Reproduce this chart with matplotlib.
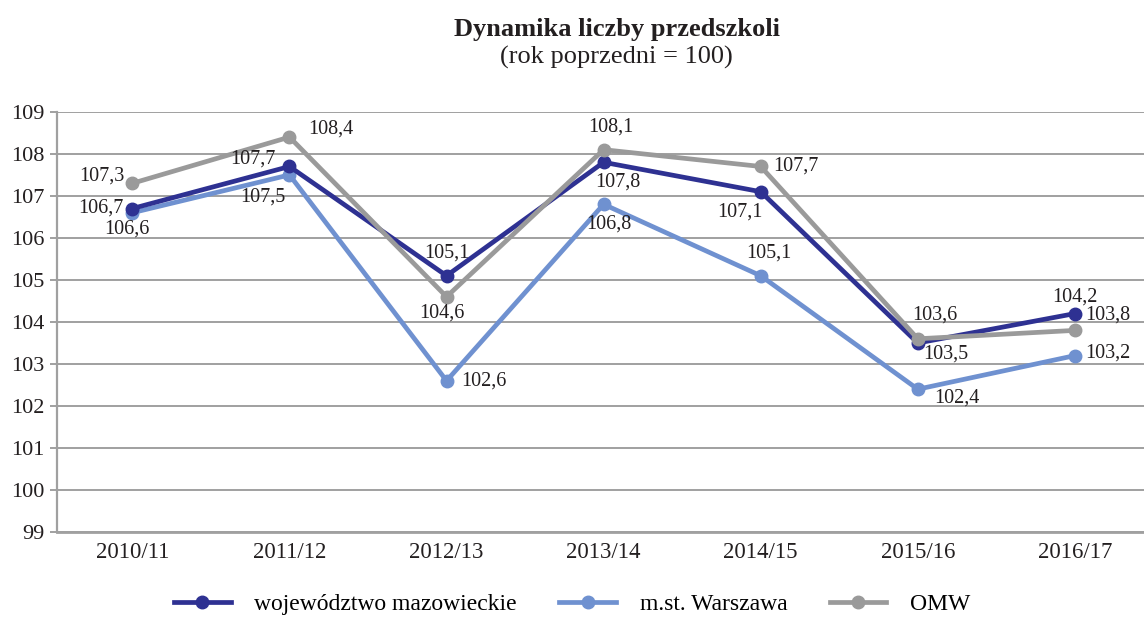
import matplotlib
matplotlib.use('Agg')
import matplotlib.pyplot as plt

plt.rcParams['font.family'] = ['Liberation Serif', 'DejaVu Serif']

lata = ['2010/11', '2011/12', '2012/13', '2013/14', '2014/15', '2015/16', '2016/17']
woj = [106.7, 107.7, 105.1, 107.8, 107.1, 103.5, 104.2]
warszawa = [106.6, 107.5, 102.6, 106.8, 105.1, 102.4, 103.2]
omw = [107.3, 108.4, 104.6, 108.1, 107.7, 103.6, 103.8]

# przesunięcia etykiet (punkty)
off_woj = [(-23, 0), (-26, 5), (0, 16), (10, -14), (-15, -15), (20, -8), (0, 12)]
off_war = [(-4, -12), (-19, -16), (27, 0), (4, -14), (6, 16), (28, -6), (24, 2)]
off_omw = [(-22, 5), (30, 6), (-3, -12), (5, 16), (25, 0), (12, 17), (24, 11)]

fig = plt.figure(figsize=(11.44, 6.18), dpi=100)
ax = fig.add_axes([0.0498, 0.139, 0.9502, 0.680])

x = list(range(len(lata)))
series = [
    (woj, '#2e3192', 'województwo mazowieckie', off_woj),
    (warszawa, '#6f91d0', 'm.st. Warszawa', off_war),
    (omw, '#9a9a9a', 'OMW', off_omw),
]
# rysowanie: najpierw Warszawa, potem woj., na wierzchu OMW
for idx in [1, 0, 2]:
    vals, col, lab, offs = series[idx]
    ax.plot(x, vals, color=col, lw=3.4, marker='o', ms=9, label=lab, zorder=3)
    for xi, v, (dx, dy) in zip(x, vals, offs):
        ax.annotate(f'{v:.1f}'.replace('.', ','), (xi, v), xytext=(dx, dy),
                    textcoords='offset points', ha='center', va='center',
                    fontsize=14.5, color='#231f20', zorder=4)

ax.set_ylim(99, 109)
ax.set_xlim(-0.48, 6.44)
ax.set_yticks(range(99, 110))
ax.set_xticks(x)
ax.set_xticklabels(lata)
ax.grid(axis='y', color='#a0a0a0', lw=1.4)
ax.set_axisbelow(True)
for s in ['top', 'right']:
    ax.spines[s].set_visible(False)
ax.spines['left'].set_color('#a0a0a0')
ax.spines['left'].set_linewidth(1.6)
ax.spines['bottom'].set_color('#a0a0a0')
ax.spines['bottom'].set_linewidth(2)
ax.tick_params(axis='y', length=5, color='#a0a0a0', width=1.4, labelsize=16,
               labelcolor='#231f20', pad=4)
ax.tick_params(axis='x', length=0, labelsize=16.5, labelcolor='#231f20', pad=7)

fig.text(0.539, 0.953, 'Dynamika liczby przedszkoli', ha='center', va='center',
         fontsize=19, fontweight='bold', color='#231f20')
fig.text(0.539, 0.907, '(rok poprzedni = 100)', ha='center', va='center',
         fontsize=19, color='#231f20')

h, l = ax.get_legend_handles_labels()
order = [l.index('województwo mazowieckie'), l.index('m.st. Warszawa'), l.index('OMW')]
fig.legend([h[i] for i in order], [l[i] for i in order], loc='center',
           bbox_to_anchor=(0.5, 0.022), ncol=3, frameon=False, fontsize=17,
           handlelength=2.4, columnspacing=1.8, handletextpad=1.0)

fig.savefig('out.png', dpi=100)
